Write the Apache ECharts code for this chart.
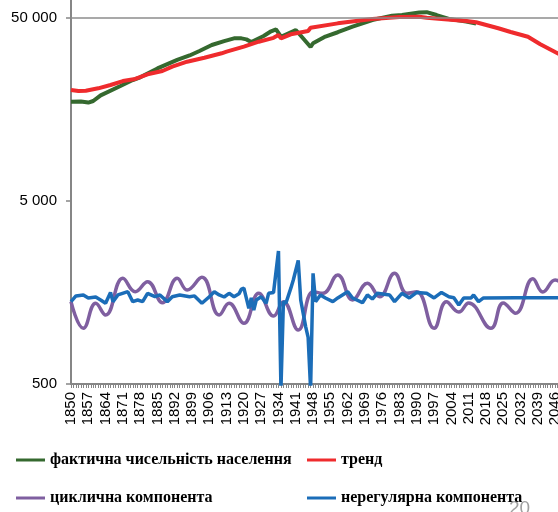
<!DOCTYPE html>
<html>
<head>
<meta charset="utf-8">
<script src="https://cdn.jsdelivr.net/npm/echarts@6/dist/echarts.min.js"></script>
<style>
  html, body { margin: 0; padding: 0; background: #fff; }
  #chart { width: 558px; height: 512px; }
</style>
</head>
<body>
<div id="chart"></div>
<script>
// Year categories of the horizontal axis
const firstYear = 1850;
const lastYear = 2050;
const years = [];
for (let y = firstYear; y <= lastYear; y++) years.push(String(y));

// Population, thousands (year, value)
const actualYears  = [1850, 1854, 1857, 1859, 1862, 1870, 1875, 1878, 1885, 1893, 1898, 1902, 1907, 1912, 1916, 1919, 1921, 1923, 1928, 1931, 1933, 1935, 1939, 1941, 1942, 1947, 1948, 1953, 1958, 1964, 1972, 1980, 1984, 1991, 1994, 1998, 2003, 2006, 2010, 2014];
const actualValues = [17440, 17480, 17250, 17600, 18900, 21250, 22900, 23700, 26500, 29500, 31200, 33000, 35600, 37400, 38700, 38700, 38200, 37000, 39900, 42300, 43300, 39500, 41800, 43000, 41500, 34700, 36400, 39600, 41800, 44900, 48750, 51500, 52000, 53600, 53800, 51900, 49400, 48750, 47800, 46700];

// Trend
const trendYears  = [1850, 1853, 1856, 1861, 1866, 1871, 1876, 1881, 1887, 1891, 1897, 1904, 1911, 1913, 1920, 1926, 1932, 1934, 1935, 1939, 1946, 1947, 1958, 1972, 1983, 1991, 1994, 2000, 2010, 2014, 2023, 2028, 2035, 2040, 2046, 2050];
const trendValues = [20210, 19950, 20030, 20640, 21520, 22620, 23210, 24620, 25670, 27100, 28850, 30340, 32070, 32720, 34850, 37110, 38960, 40370, 38720, 40730, 42460, 44260, 46740, 49370, 50630, 50790, 50190, 49370, 48150, 47370, 43930, 41930, 39500, 35910, 32610, 30600];

// Cyclical component
const cycleYears  = [1850, 1855, 1860, 1864, 1871, 1876, 1881, 1887, 1893, 1897, 1903, 1910, 1914, 1920, 1926, 1932, 1936, 1942, 1948, 1952, 1958, 1964, 1970, 1975, 1981, 1986, 1990, 1997, 2002, 2007, 2011, 2020, 2025, 2030, 2037, 2041, 2046, 2050];
const cycleValues = [1409, 1008, 1380, 1191, 1891, 1597, 1811, 1391, 1891, 1632, 1914, 1191, 1380, 1073, 1565, 1176, 1409, 986, 1597, 1565, 1971, 1439, 1775, 1500, 2013, 1565, 1597, 1008, 1409, 1237, 1386, 1008, 1386, 1217, 1880, 1592, 1850, 1700];

// Irregular component
const irregYears  = [1850, 1852, 1855, 1857, 1860, 1862, 1864, 1866, 1867, 1869, 1873, 1875, 1877, 1879, 1881, 1884, 1886, 1889, 1891, 1894, 1898, 1900, 1903, 1906, 1908, 1910, 1912, 1914, 1916, 1918, 1919, 1920, 1922, 1923, 1924, 1925, 1927, 1929, 1930, 1932, 1934, 1935, 1936, 1937, 1939, 1940, 1942, 1943, 1945, 1946, 1947, 1948, 1949, 1951, 1953, 1956, 1958, 1962, 1964, 1968, 1970, 1972, 1974, 1979, 1981, 1984, 1987, 1990, 1994, 1997, 2000, 2003, 2005, 2007, 2009, 2012, 2013, 2015, 2017, 2030, 2050];
const irregValues = [1409, 1515, 1533, 1476, 1494, 1439, 1380, 1582, 1409, 1533, 1597, 1409, 1439, 1409, 1565, 1500, 1533, 1409, 1500, 1533, 1500, 1515, 1380, 1500, 1597, 1533, 1494, 1565, 1500, 1555, 1650, 1670, 1295, 1476, 1268, 1439, 1500, 1380, 1565, 1582, 2666, 470, 1409, 1380, 1670, 1850, 2366, 1439, 1030, 900, 470, 2013, 1409, 1533, 1476, 1409, 1476, 1597, 1476, 1391, 1533, 1457, 1565, 1533, 1409, 1565, 1476, 1582, 1565, 1476, 1582, 1500, 1480, 1350, 1476, 1476, 1533, 1409, 1476, 1480, 1480];

const seriesNames = ['фактична чисельність населення', 'тренд', 'циклична компонента', 'нерегулярна компонента'];
const seriesColors = ['#35692f', '#ef2b2d', '#7f5fa0', '#1b6db8'];

function pairs(xs, vs) {
  return xs.map((x, i) => [String(x), vs[i]]);
}

function spaced(v) {
  const n = Number(Number(v).toPrecision(1));
  return String(n).replace(/\B(?=(\d{3})+(?!\d))/g, ' ');
}

const axisGray = '#868686';
const legendText = { fontFamily: 'Liberation Serif', fontWeight: 'bold', fontSize: 16, color: '#000' };

function legendAt(name, left, top) {
  return {
    data: [name], left: left, top: top, orient: 'horizontal',
    icon: 'rect', itemWidth: 29, itemHeight: 3, padding: 0, itemGap: 0,
    textStyle: legendText
  };
}

const chart = echarts.init(document.getElementById('chart'), null, { renderer: 'canvas' });
chart.setOption({
  animation: false,
  backgroundColor: '#fff',
  // the plot area runs past the top and right edges: only the three lower decades are in view
  grid: { left: 71, right: -7, top: -165, bottom: 128, containLabel: false, outerBoundsMode: 'none' },
  xAxis: {
    type: 'category',
    data: years,
    boundaryGap: false,
    axisLine: { lineStyle: { color: axisGray, width: 2 } },
    axisTick: { show: true, interval: 0, length: 4, lineStyle: { color: axisGray, width: 1 } },
    axisLabel: {
      interval: 6, rotate: 90, margin: 8,
      fontFamily: 'Liberation Sans', fontSize: 15, color: '#000'
    },
    splitLine: { show: false }
  },
  yAxis: {
    type: 'log',
    logBase: 10,
    min: 500,
    max: 500000,
    interval: 1,
    axisLine: { show: true, lineStyle: { color: axisGray, width: 2 } },
    axisTick: { show: true, length: 5, lineStyle: { color: axisGray, width: 1.5 } },
    axisLabel: {
      margin: 14, fontFamily: 'Liberation Sans', fontSize: 15, color: '#000',
      formatter: spaced
    },
    splitLine: { show: false }
  },
  legend: [
    legendAt(seriesNames[0], 16, 452),
    legendAt(seriesNames[1], 307, 452),
    legendAt(seriesNames[2], 16, 490),
    legendAt(seriesNames[3], 307, 490)
  ],
  graphic: [{
    type: 'text', left: 509, top: 499, silent: true,
    style: { text: '20', font: '19px "Liberation Sans"', fill: '#a0a0a0' }
  }],
  series: [
    {
      name: seriesNames[0], type: 'line', data: pairs(actualYears, actualValues),
      showSymbol: false, color: seriesColors[0],
      lineStyle: { width: 4, color: seriesColors[0] },
      markLine: {
        silent: true, symbol: 'none', label: { show: false },
        lineStyle: { color: '#8c8c8c', width: 1.5, type: 'solid' },
        data: [{ yAxis: 50000 }]
      }
    },
    {
      name: seriesNames[1], type: 'line', data: pairs(trendYears, trendValues),
      showSymbol: false, color: seriesColors[1],
      lineStyle: { width: 4, color: seriesColors[1] }
    },
    {
      name: seriesNames[2], type: 'line', data: pairs(cycleYears, cycleValues),
      showSymbol: false, smooth: 0.45, color: seriesColors[2],
      lineStyle: { width: 3.5, color: seriesColors[2] }
    },
    {
      name: seriesNames[3], type: 'line', data: pairs(irregYears, irregValues),
      showSymbol: false, color: seriesColors[3],
      lineStyle: { width: 3.5, color: seriesColors[3] }
    }
  ]
});
</script>
</body>
</html>
